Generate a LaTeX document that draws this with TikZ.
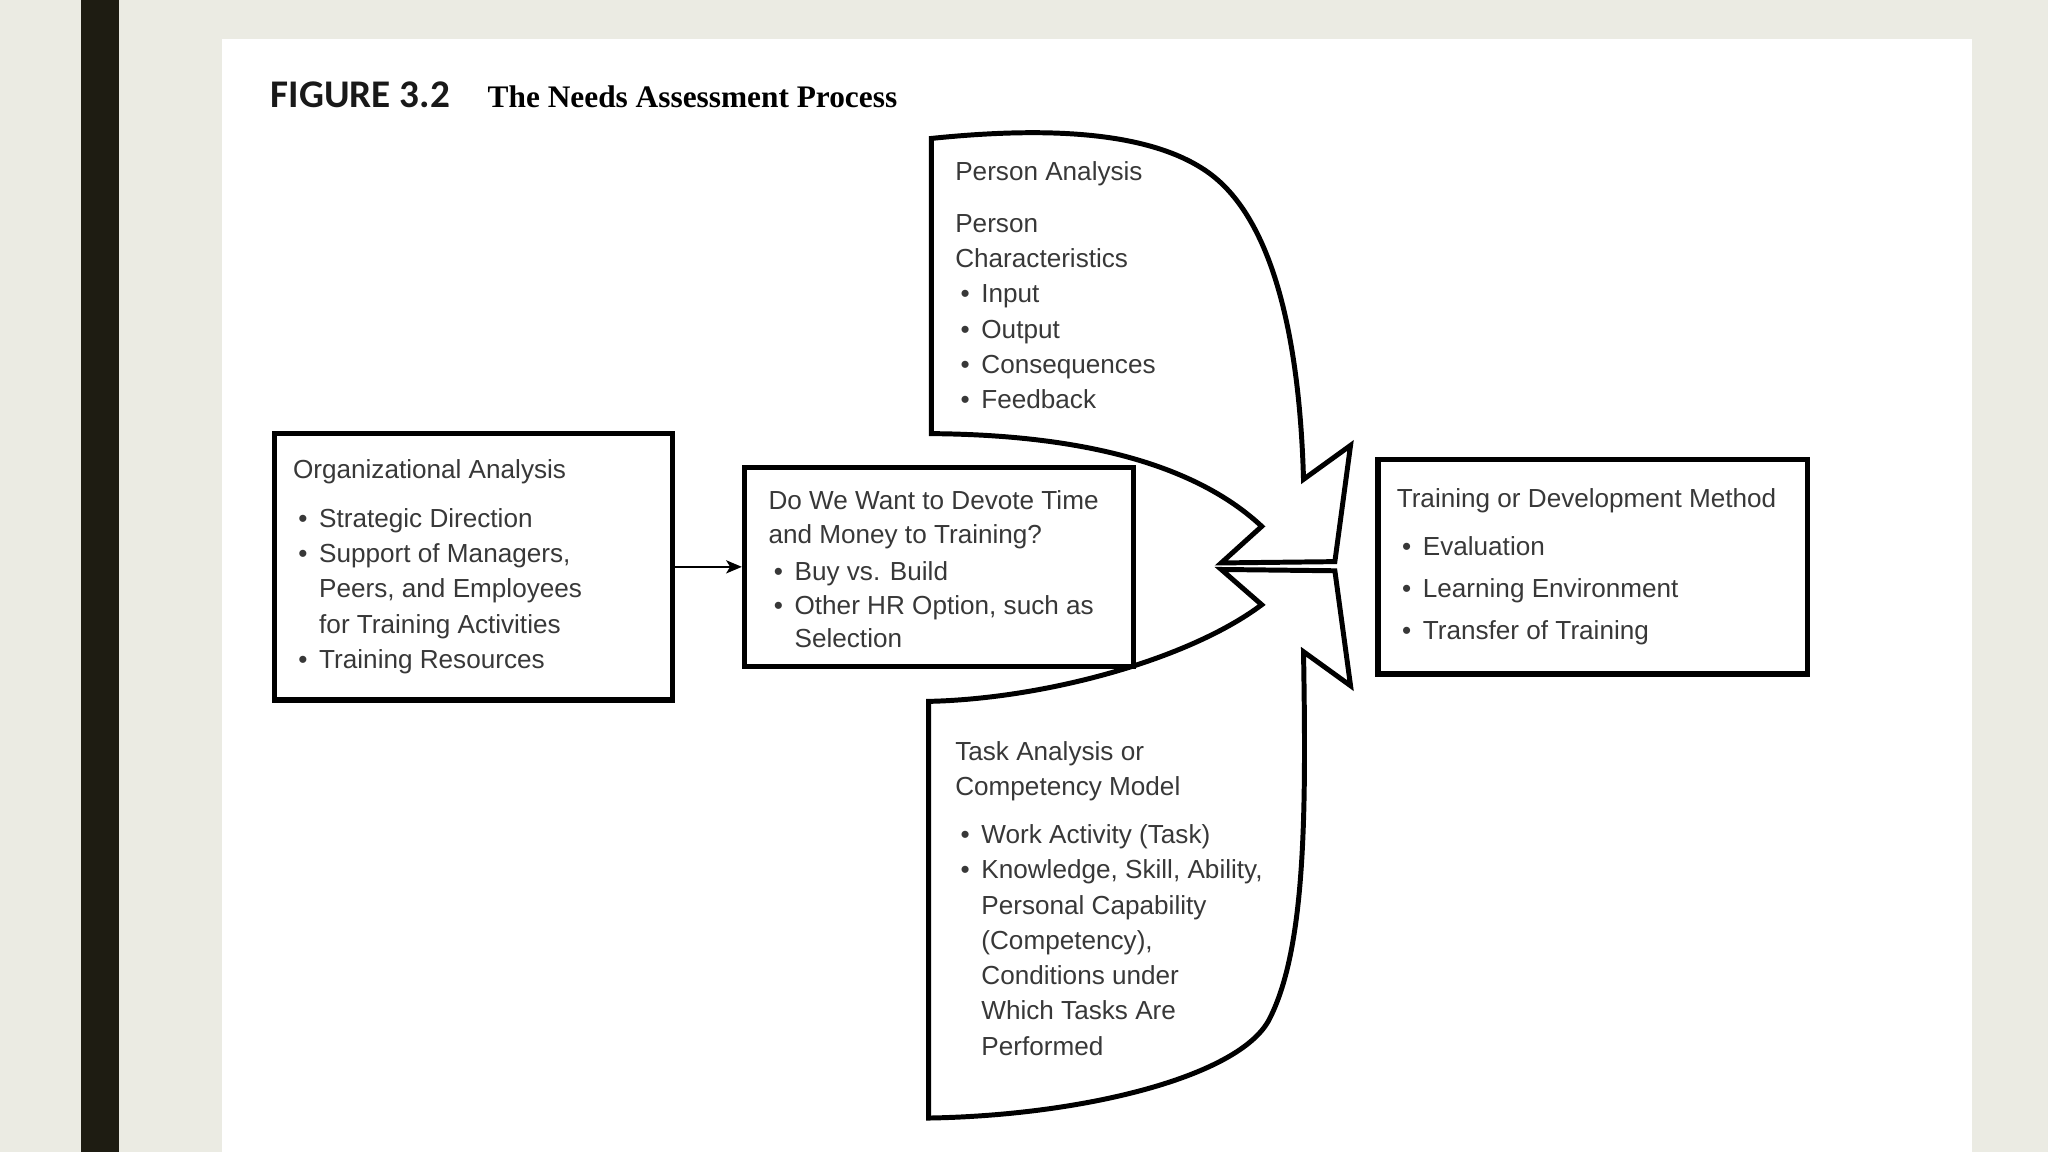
\documentclass[tikz,border=0pt]{standalone}
\usepackage{fontspec}
\usepackage{xcolor}
\usetikzlibrary{arrows,arrows.meta,positioning}
\setsansfont{Liberation Sans}
\newfontfamily\capfont{Carlito}
\newfontfamily\titlefont{Liberation Serif}
\definecolor{pagebg}{HTML}{EBEBE3}
\definecolor{barcol}{HTML}{1E1C12}
\definecolor{txt}{HTML}{383838}
\newcommand{\itm}[1]{\makebox[10pt][l]{\hspace{2pt}\textbullet}#1}
\newcommand{\cnt}[1]{\hspace*{10pt}#1}
\tikzset{
  box/.style={draw,line width=2pt,anchor=north west,inner sep=0pt},
  outline/.style={draw,line width=1.9pt,line join=miter,fill=white},
  txtblock/.style={inner sep=0pt,align=left,text=txt,font=\sffamily\fontsize{10}{13.5}\selectfont}
}
\begin{document}
\begin{tikzpicture}[x=0.5pt,y=-0.5pt]
\useasboundingbox (0,0) rectangle (1568,882);
\fill[pagebg] (0,0) rectangle (1568,882);
\fill[barcol] (62,0) rectangle (91,882);
\fill[white] (170,30) rectangle (1510,882);

% title
\node[anchor=base west,inner sep=0pt,text=black!90] (fig) at (207,82) {\capfont\bfseries\fontsize{15}{15}\selectfont FIGURE 3.2};
\node[anchor=base west,inner sep=0pt] (title) at (373,82) {\titlefont\bfseries\fontsize{12}{12}\selectfont The Needs Assessment Process};

% person analysis shape
\draw[outline] (713,106) .. controls (800,97) and (880,100) .. (925,132)
  .. controls (975,167.6) and (995,260) .. (998,367)
  -- (1034,341) -- (1022,430) -- (935,431) -- (966,403)
  .. controls (920,360) and (840,333) .. (713,332) -- cycle;
% task analysis shape
\draw[outline] (711,537) .. controls (800,535) and (910,505) .. (966,463)
  -- (935,436) -- (1022,437) -- (1034,525) -- (998,499)
  .. controls (1000,620) and (1000,725) .. (972,780)
  .. controls (950,824) and (830,854) .. (711,856) -- cycle;

\node[txtblock,anchor=north west] (person) at (731,123) {Person Analysis\\[6.5pt]
Person\\
Characteristics\\
\itm{Input}\\
\itm{Output}\\
\itm{Consequences}\\
\itm{Feedback}};

\node[txtblock,anchor=north west] (task) at (731,567) {Task Analysis or\\
Competency Model\\[5pt]
\itm{Work Activity (Task)}\\
\itm{Knowledge, Skill, Ability,}\\
\cnt{Personal Capability}\\
\cnt{(Competency),}\\
\cnt{Conditions under}\\
\cnt{Which Tasks Are}\\
\cnt{Performed}};

% boxes
\node[box,minimum width=152.5pt,minimum height=102pt] (org) at (208,330) {};
\node[txtblock,right=8pt of org.west] (orgtxt) {Organizational Analysis\\[5pt]
\itm{Strategic Direction}\\
\itm{Support of Managers,}\\
\cnt{Peers, and Employees}\\
\cnt{for Training Activities}\\
\itm{Training Resources}};

\node[box,fill=white,minimum width=149pt,minimum height=76pt] (mid) at (568,356) {};
\node[txtblock,font=\sffamily\fontsize{10}{12.8}\selectfont,right=10pt of mid.west,yshift=-1pt] (midtxt) {Do We Want to Devote Time\\
and Money to Training?\\[1.5pt]
\itm{Buy vs. Build}\\
\itm{Other HR Option, such as}\\
\cnt{Selection}};

\node[box,minimum width=164.5pt,minimum height=82pt] (method) at (1053,350) {};
\node[txtblock,right=8pt of method.west] (methodtxt) {Training or Development Method\\[5pt]
\itm{Evaluation}\\[2.5pt]
\itm{Learning Environment}\\[2.5pt]
\itm{Transfer of Training}};

\draw[-{Stealth[length=6pt,width=5pt,inset=1.5pt]},line width=0.9pt] (org) -- (mid);
\end{tikzpicture}
\end{document}
